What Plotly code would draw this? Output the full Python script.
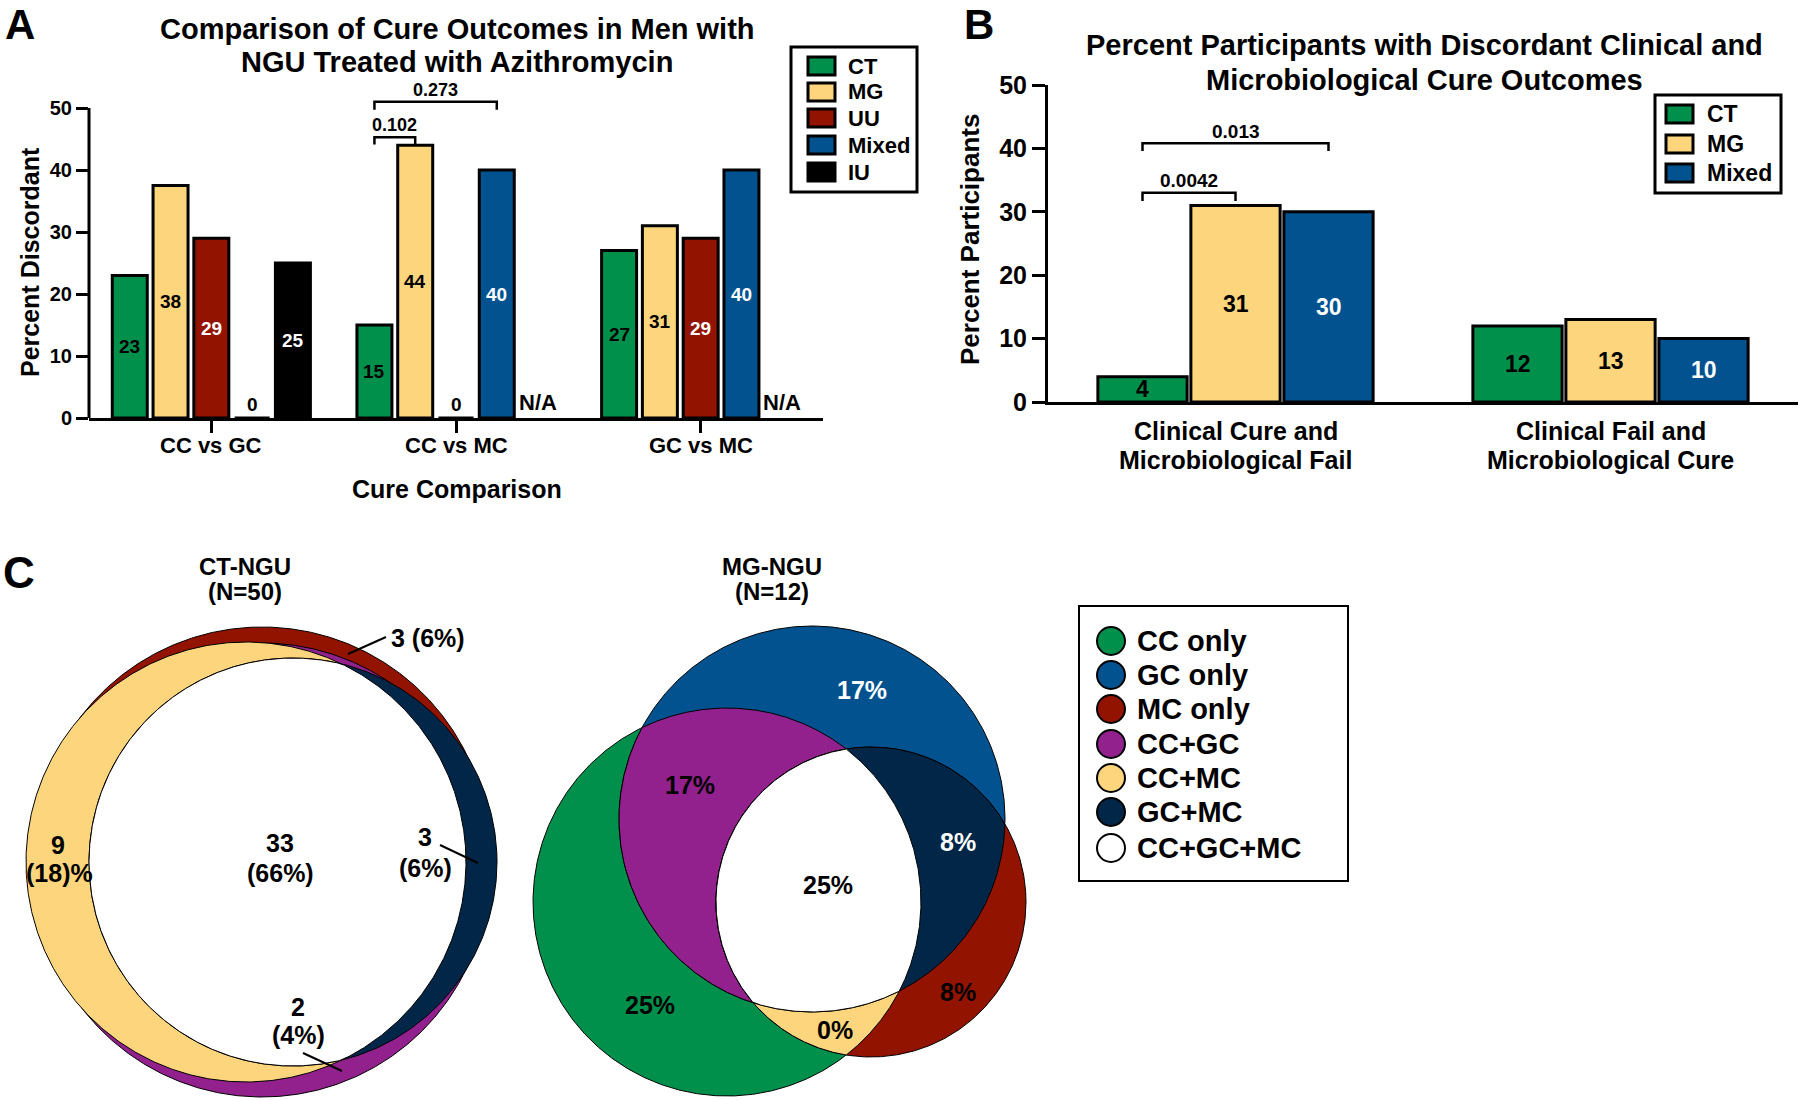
import numpy as np
import plotly.graph_objects as go

W, H = 1800, 1100
FONT = "Liberation Sans"

# ---------------- data ----------------
groups_a = ["CC vs GC", "CC vs MC", "GC vs MC"]
series_a = ["CT", "MG", "UU", "Mixed", "IU"]
ct_a = [23, 15, 27]
mg_a = [37.5, 44, 31]
uu_a = [29, 0, 29]
mixed_a = [0, 40, 40]
iu_a = [25, None, None]
pvals_a = ["0.102", "0.273"]

groups_b = [["Clinical Cure and", "Microbiological Fail"], ["Clinical Fail and", "Microbiological Cure"]]
series_b = ["CT", "MG", "Mixed"]
ct_b = [4, 12]
mg_b = [31, 13]
mixed_b = [30, 10]
pvals_b = ["0.0042", "0.013"]

venn_regions = ["CC only", "GC only", "MC only", "CC+GC", "CC+MC", "GC+MC", "CC+GC+MC"]
ct_ngu_counts = [0, 0, 3, 2, 9, 3, 33]
ct_ngu_n = 50
mg_ngu_pct = [25, 17, 8, 17, 0, 8, 25]
mg_ngu_n = 12

# ---------------- styles ----------------
C_CT = "#00904C"
C_MG = "#FDD57D"
C_UU = "#921300"
C_MIX = "#01528F"
C_IU = "#000000"
C_PUR = "#92218D"
C_NAVY = "#012648"
colors_a = [C_CT, C_MG, C_UU, C_MIX, C_IU]
label_col_a = ["black", "black", "white", "white", "white"]
colors_b = [C_CT, C_MG, C_MIX]
label_col_b = ["black", "black", "white"]
venn_colors = [C_CT, C_MIX, C_UU, C_PUR, C_MG, C_NAVY, "#FFFFFF"]


def px(x):
    return x / W


def py(y):
    return 1 - y / H


def bold(size, color="black"):
    return dict(family=FONT, size=size, color=color, weight="bold")


fig = go.Figure()
ann = []
shapes = []


def note(x, y, text, size, color="black", xref="paper", yref="paper", **kw):
    # paper positions are given in pixels from the top-left corner
    if xref == "paper":
        x = px(x)
    if yref == "paper":
        y = py(y)
    d = dict(x=x, y=y, xref=xref, yref=yref, text=text, showarrow=False,
             font=bold(size, color), xanchor=kw.pop("xanchor", "center"),
             yanchor=kw.pop("yanchor", "middle"))
    d.update(kw)
    ann.append(d)


# ---------------- Panel A ----------------
slot_a = 0.1667
barw_a = 0.143
vals_a = [ct_a, mg_a, uu_a, mixed_a, iu_a]
for s, (name, vals) in enumerate(zip(series_a, vals_a)):
    xs = [g + (s - 2) * slot_a for g in range(len(groups_a))]
    fig.add_trace(go.Bar(x=xs, y=[v if v is not None else None for v in vals], width=barw_a,
                         name=name, marker=dict(color=colors_a[s], line=dict(color="black", width=3)),
                         xaxis="x", yaxis="y", hoverinfo="skip", showlegend=False))
    for x, v in zip(xs, vals):
        if v is None:
            note(x, 0, "N/A", 22, xref="x", yref="y", yanchor="bottom", yshift=1)
        elif v == 0:
            note(x, 0, "0", 19, xref="x", yref="y", yanchor="bottom", yshift=1)
        else:
            note(x, v / 2, str(int(v + 0.5)), 19, label_col_a[s], xref="x", yref="y")

# category labels A
for g, name in enumerate(groups_a):
    note(g, 445, name, 22, xref="x", yref="paper")

# brackets A  (series index pairs within group "CC vs MC")
brackets_a = [(pvals_a[0], 1, 0, 1, 45.3, 1.2), (pvals_a[1], 1, 0, 3, 51.0, 1.3)]
for txt, g, s0, s1, yb, dy in brackets_a:
    x0 = g + (s0 - 2) * slot_a
    x1 = g + (s1 - 2) * slot_a
    fig.add_trace(go.Scatter(x=[x0, x0, x1, x1], y=[yb - dy, yb, yb, yb - dy], mode="lines",
                             line=dict(color="black", width=2.5), xaxis="x", yaxis="y",
                             hoverinfo="skip", showlegend=False))
    note((x0 + x1) / 2, yb + 1.9, txt, 18, xref="x", yref="y")

# y axis line A only up to 50
shapes.append(dict(type="line", xref="x domain", yref="y", x0=0, x1=0, y0=0, y1=50,
                   line=dict(color="black", width=3)))

# ---------------- Panel B ----------------
slot_b = 0.248
barw_b = 0.238
vals_b = [ct_b, mg_b, mixed_b]
for s, (name, vals) in enumerate(zip(series_b, vals_b)):
    xs = [g + (s - 1) * slot_b for g in range(len(groups_b))]
    fig.add_trace(go.Bar(x=xs, y=vals, width=barw_b, name=name,
                         marker=dict(color=colors_b[s], line=dict(color="black", width=3)),
                         xaxis="x2", yaxis="y2", hoverinfo="skip", showlegend=False))
    for x, v in zip(xs, vals):
        note(x, v / 2, str(v), 23, label_col_b[s], xref="x2", yref="y2")

for g, lines in enumerate(groups_b):
    note(g, 431, lines[0], 25, xref="x2", yref="paper")
    note(g, 460, lines[1], 25, xref="x2", yref="paper")

brackets_b = [(pvals_b[0], 0, 0, 1, 33.0, 1.3), (pvals_b[1], 0, 0, 2, 40.8, 1.2)]
for txt, g, s0, s1, yb, dy in brackets_b:
    x0 = g + (s0 - 1) * slot_b
    x1 = g + (s1 - 1) * slot_b
    fig.add_trace(go.Scatter(x=[x0, x0, x1, x1], y=[yb - dy, yb, yb, yb - dy], mode="lines",
                             line=dict(color="black", width=2.5), xaxis="x2", yaxis="y2",
                             hoverinfo="skip", showlegend=False))
    note((x0 + x1) / 2, yb + 1.9, txt, 19, xref="x2", yref="y2")

# ---------------- Panel C (Venn diagrams) ----------------
def disk(cx, cy, r, n=721):
    t = np.linspace(0, 2 * np.pi, n)
    return list(cx + r * np.cos(t)), list(cy + r * np.sin(t))


def region(circles, n=2400):
    xs, ys = [], []
    for i, (cx, cy, r) in enumerate(circles):
        t = np.linspace(0, 2 * np.pi, n, endpoint=False)
        x = cx + r * np.cos(t)
        y = cy + r * np.sin(t)
        ok = np.ones_like(x, dtype=bool)
        for j, (dx, dy, dr) in enumerate(circles):
            if j != i:
                ok &= (x - dx) ** 2 + (y - dy) ** 2 <= dr ** 2 + 1e-6
        xs.append(x[ok])
        ys.append(y[ok])
    x = np.concatenate(xs)
    y = np.concatenate(ys)
    mx, my = x.mean(), y.mean()
    o = np.argsort(np.arctan2(y - my, x - mx))
    x, y = x[o], y[o]
    return list(x) + [x[0]], list(y) + [y[0]]


def fillpoly(xy, color):
    fig.add_trace(go.Scatter(x=xy[0], y=xy[1], mode="lines", fill="toself", fillcolor=color,
                             line=dict(color="black", width=1), xaxis="x3", yaxis="y3",
                             hoverinfo="skip", showlegend=False))


# CT-NGU geometry (drawing layers)
ct_red = (262, 855, 228)
ct_pur = (262, 870, 227)
ct_cc = (246, 862, 220)
ct_gc = (293, 862, 204)
fillpoly(disk(*ct_red), venn_colors[2])
fillpoly(disk(*ct_pur), venn_colors[3])
fillpoly(disk(*ct_cc), venn_colors[4])
fillpoly(disk(*ct_gc), venn_colors[5])
fillpoly(region([ct_cc, ct_gc]), venn_colors[6])

# MG-NGU geometry
mg_cc = (727, 902, 194)
mg_gc = (812, 819, 193)
mg_mc = (871, 902, 155)
fillpoly(disk(*mg_cc), venn_colors[0])
fillpoly(disk(*mg_gc), venn_colors[1])
fillpoly(region([mg_cc, mg_gc]), venn_colors[3])
fillpoly(disk(*mg_mc), venn_colors[2])
fillpoly(region([mg_cc, mg_mc]), venn_colors[4])
fillpoly(region([mg_gc, mg_mc]), venn_colors[5])
fillpoly(region([mg_cc, mg_gc, mg_mc]), venn_colors[6])


def cnt(i):
    return ct_ngu_counts[i], round(100 * ct_ngu_counts[i] / ct_ngu_n)


def v3(x, y, text, size=25, color="black"):
    note(x, y, text, size, color, xref="x3", yref="y3")


# titles
v3(245, 567, "CT-NGU", 24)
v3(245, 592, f"(N={ct_ngu_n})", 24)
v3(772, 567, "MG-NGU", 24)
v3(772, 592, f"(N={mg_ngu_n})", 24)

# CT-NGU labels
c, p = cnt(2)
v3(428, 638, f"{c} ({p}%)")
c, p = cnt(4)
v3(58, 845, f"{c}")
v3(59, 873, f"({p})%")
c, p = cnt(6)
v3(280, 843, f"{c}")
v3(280, 873, f"({p}%)")
c, p = cnt(5)
v3(425, 837, f"{c}")
v3(425, 868, f"({p}%)")
c, p = cnt(3)
v3(298, 1007, f"{c}")
v3(298, 1035, f"({p}%)")
for (x0, y0, x1, y1) in [(348, 654, 386, 637), (440, 845, 478, 863), (303, 1053, 342, 1071)]:
    shapes.append(dict(type="line", xref="x3", yref="y3", x0=x0, y0=y0, x1=x1, y1=y1,
                       line=dict(color="black", width=2)))

# MG-NGU labels
mg_label_pos = {1: (862, 690, "white"), 3: (690, 785, "black"), 5: (958, 842, "white"),
                6: (828, 885, "black"), 0: (650, 1005, "black"), 2: (958, 992, "black"),
                4: (835, 1030, "black")}
for i, (x, y, col) in mg_label_pos.items():
    v3(x, y, f"{mg_ngu_pct[i]}%", 25, col)

# legend C
shapes.append(dict(type="rect", xref="x3", yref="y3", x0=1079, x1=1348, y0=606, y1=881,
                   line=dict(color="black", width=2), fillcolor="white", layer="below"))
leg_c_y = [641, 675, 709, 744, 778, 812, 848]
for i, name in enumerate(venn_regions):
    yy = leg_c_y[i]
    shapes.append(dict(type="circle", xref="x3", yref="y3", x0=1097, x1=1125, y0=yy - 14, y1=yy + 14,
                       fillcolor=venn_colors[i], line=dict(color="black", width=2)))
    note(1135, yy, name, 29, xref="x3", yref="y3", xanchor="left")

# ---------------- legends A & B ----------------
def legend_box(x0, y0, x1, y1, items, cols, ys, sx0, sx1, tx, size):
    shapes.append(dict(type="rect", xref="paper", yref="paper", x0=px(x0), x1=px(x1), y0=py(y1), y1=py(y0),
                       line=dict(color="black", width=3), fillcolor="white"))
    for name, col, yy in zip(items, cols, ys):
        shapes.append(dict(type="rect", xref="paper", yref="paper", x0=px(sx0), x1=px(sx1),
                           y0=py(yy + 9), y1=py(yy - 9), fillcolor=col, line=dict(color="black", width=3)))
        note(tx, yy, name, size, xanchor="left")


legend_box(791, 47, 917, 192, series_a, colors_a, [66, 92, 118, 145, 172], 808, 835, 846, 22)
legend_box(1655, 95, 1781, 193, series_b, colors_b, [114, 144, 173], 1666, 1693, 1705, 23)

# ---------------- titles / labels ----------------
note(20, 25, "A", 42, borderpad=0)
note(979, 25, "B", 42, borderpad=0)
note(19, 572, "C", 44)
note(457, 29, "Comparison of Cure Outcomes in Men with", 29)
note(457, 62, "NGU Treated with Azithromycin", 29)
note(1424, 45, "Percent Participants with Discordant Clinical and", 29)
note(1424, 80, "Microbiological Cure Outcomes", 29)
note(30, 262, "Percent Discordant", 25, textangle=-90)
note(970, 240, "Percent Participants", 26, textangle=-90)
note(457, 489, "Cure Comparison", 25)

axis_common = dict(showgrid=False, zeroline=False, fixedrange=True, automargin=False)
fig.update_layout(
    template="none",
    width=W, height=H, margin=dict(l=0, r=0, t=0, b=0, pad=0, autoexpand=False),
    paper_bgcolor="white", plot_bgcolor="rgba(0,0,0,0)", showlegend=False,
    barmode="overlay",
    xaxis=dict(domain=[px(89), px(823)], range=[-0.5, 2.5], tickvals=list(range(len(groups_a))),
               showticklabels=False, showline=True, linewidth=3, linecolor="black",
               ticks="outside", ticklen=12, tickwidth=3, tickcolor="black", anchor="y", **axis_common),
    yaxis=dict(domain=[py(418), py(77)], range=[0, 55], tickvals=[0, 10, 20, 30, 40, 50],
               tickfont=bold(20), showline=False, ticks="outside", ticklen=12, tickwidth=3,
               tickcolor="black", anchor="x", **axis_common),
    xaxis2=dict(domain=[px(1048), px(1798)], range=[-0.5, 1.5], showticklabels=False,
                showline=True, linewidth=3, linecolor="black",
                ticks="", anchor="y2", **axis_common),
    yaxis2=dict(domain=[py(402), py(85)], range=[0, 50], tickvals=[0, 10, 20, 30, 40, 50],
                tickfont=bold(25), showline=True, linewidth=3, linecolor="black", ticks="outside",
                ticklen=13, tickwidth=3, tickcolor="black", anchor="x2", **axis_common),
    xaxis3=dict(domain=[0, 1], range=[0, W], visible=False, anchor="y3", **axis_common),
    yaxis3=dict(domain=[0, py(520)], range=[H, 520], visible=False, anchor="x3", **axis_common),
    annotations=ann, shapes=shapes,
)

page_fix = ("document.documentElement.style.margin='0';document.body.style.margin='0';"
            "document.documentElement.style.overflow='hidden';document.body.style.overflow='hidden';"
            "var gd=document.getElementById('{plot_id}');gd.style.position='absolute';"
            "gd.style.left='0px';gd.style.top='0px';")
fig.write_html("out.html", config={"displayModeBar": False}, post_script=page_fix)
